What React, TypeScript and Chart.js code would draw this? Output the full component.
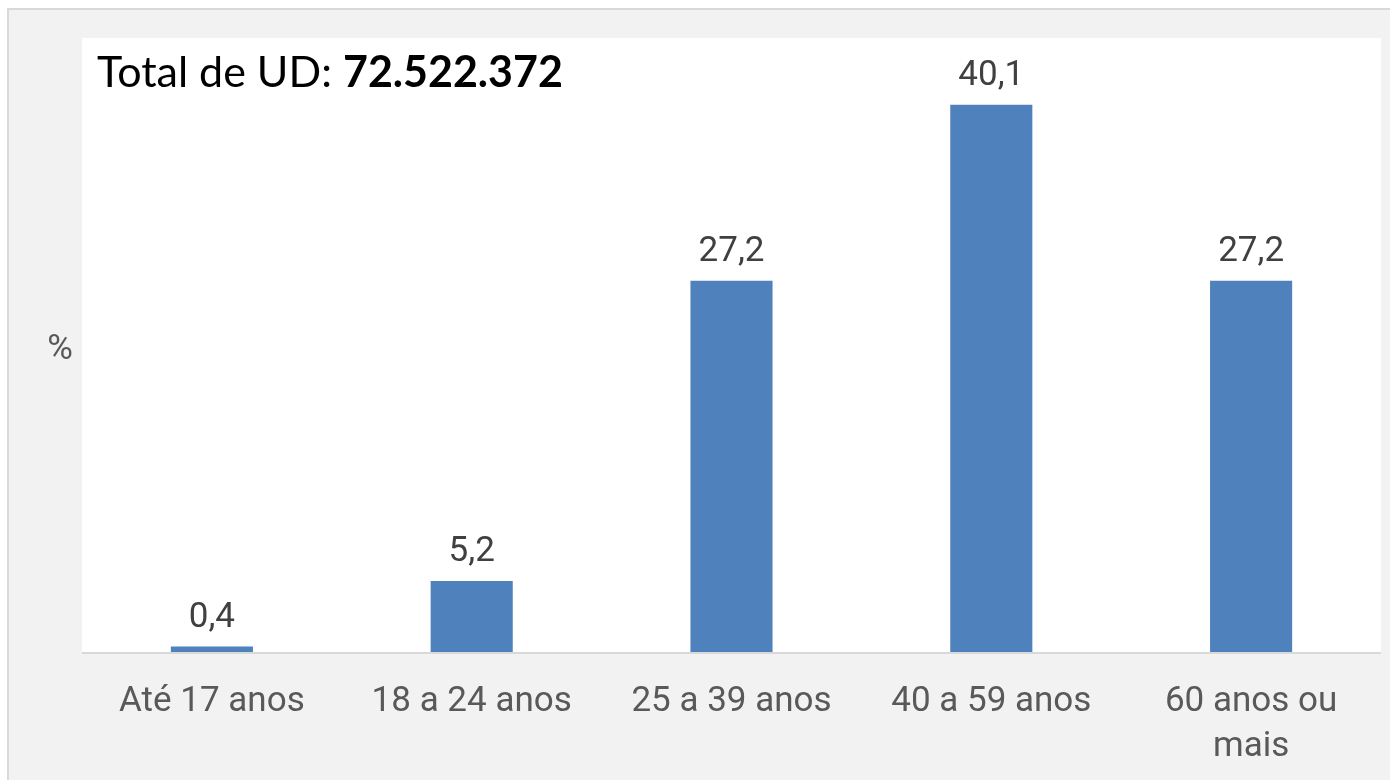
import React, { useEffect, useRef } from "react";
import { Chart, registerables } from "chart.js";

Chart.register(...registerables);

const categories: (string | string[])[] = [
  "Até 17 anos",
  "18 a 24 anos",
  "25 a 39 anos",
  "40 a 59 anos",
  ["60 anos ou", "mais"],
];
const values: number[] = [0.4, 5.2, 27.2, 40.1, 27.2];
const valueLabels: string[] = ["0,4", "5,2", "27,2", "40,1", "27,2"];
const titlePrefix = "Total de UD: ";
const titleValue = "72.522.372";
const yAxisLabel = "%";

const W = 1390;
const H = 780;

const bgPlugin = {
  id: "bgPlugin",
  beforeDraw(chart: any) {
    const { ctx, chartArea } = chart;
    ctx.save();
    ctx.fillStyle = "#ffffff";
    ctx.fillRect(0, 0, W, H);
    ctx.fillStyle = "#f2f2f2";
    ctx.fillRect(8, 9, W - 8, H - 9);
    ctx.strokeStyle = "#d9d9d9";
    ctx.lineWidth = 2;
    ctx.beginPath();
    ctx.moveTo(8, H);
    ctx.lineTo(8, 9);
    ctx.lineTo(W, 9);
    ctx.stroke();
    ctx.fillStyle = "#ffffff";
    ctx.fillRect(chartArea.left, chartArea.top, chartArea.right - chartArea.left, chartArea.bottom - chartArea.top);
    ctx.restore();
  },
  afterDatasetsDraw(chart: any) {
    const { ctx, chartArea } = chart;
    ctx.save();
    // axis line
    ctx.strokeStyle = "#d9d9d9";
    ctx.lineWidth = 2;
    ctx.beginPath();
    ctx.moveTo(chartArea.left, chartArea.bottom + 1);
    ctx.lineTo(chartArea.right, chartArea.bottom + 1);
    ctx.stroke();
    // data labels
    const meta = chart.getDatasetMeta(0);
    ctx.fillStyle = "#404040";
    ctx.font = "35px Roboto";
    ctx.textAlign = "center";
    ctx.textBaseline = "alphabetic";
    meta.data.forEach((bar: any, i: number) => {
      ctx.fillText(valueLabels[i], bar.x, bar.y - 20);
    });
    // title
    ctx.fillStyle = "#000000";
    ctx.textAlign = "left";
    ctx.textBaseline = "alphabetic";
    ctx.font = "43px Lato";
    ctx.fillText(titlePrefix, 97, 87);
    const w = ctx.measureText(titlePrefix).width;
    ctx.font = "bold 43px Lato";
    ctx.fillText(titleValue, 97 + w, 87);
    // y label
    ctx.fillStyle = "#595959";
    ctx.font = "35px Roboto";
    ctx.textAlign = "center";
    ctx.textBaseline = "alphabetic";
    ctx.fillText(yAxisLabel, 60, 359);
    ctx.restore();
  },
};

export default function App() {
  const ref = useRef<HTMLCanvasElement | null>(null);
  useEffect(() => {
    if (!ref.current) return;
    const chart = new Chart(ref.current, {
      type: "bar",
      data: {
        labels: categories as any,
        datasets: [
          {
            data: values,
            backgroundColor: "#4f81bd",
            categoryPercentage: 1,
            barPercentage: 0.316,
          },
        ],
      },
      options: {
        animation: false,
        responsive: false,
        devicePixelRatio: 1,
        layout: { padding: { left: 82, right: 9, top: 38, bottom: 0 } },
        plugins: { legend: { display: false }, tooltip: { enabled: false } },
        scales: {
          x: {
            grid: { display: false, drawTicks: false },
            border: { display: false },
            ticks: {
              color: "#595959",
              font: { family: "Roboto", size: 35, lineHeight: 1.29 },
              padding: 28,
              maxRotation: 0,
              autoSkip: false,
            },
            afterFit(scale: any) {
              scale.height = 128;
            },
          },
          y: {
            display: false,
            min: 0,
            max: 45,
          },
        },
      },
      plugins: [bgPlugin],
    });
    return () => chart.destroy();
  }, []);
  return (
    <div style={{ position: "fixed", left: 0, top: 0, width: W, height: H }}>
      <canvas ref={ref} width={W} height={H} style={{ width: W, height: H }} />
    </div>
  );
}
